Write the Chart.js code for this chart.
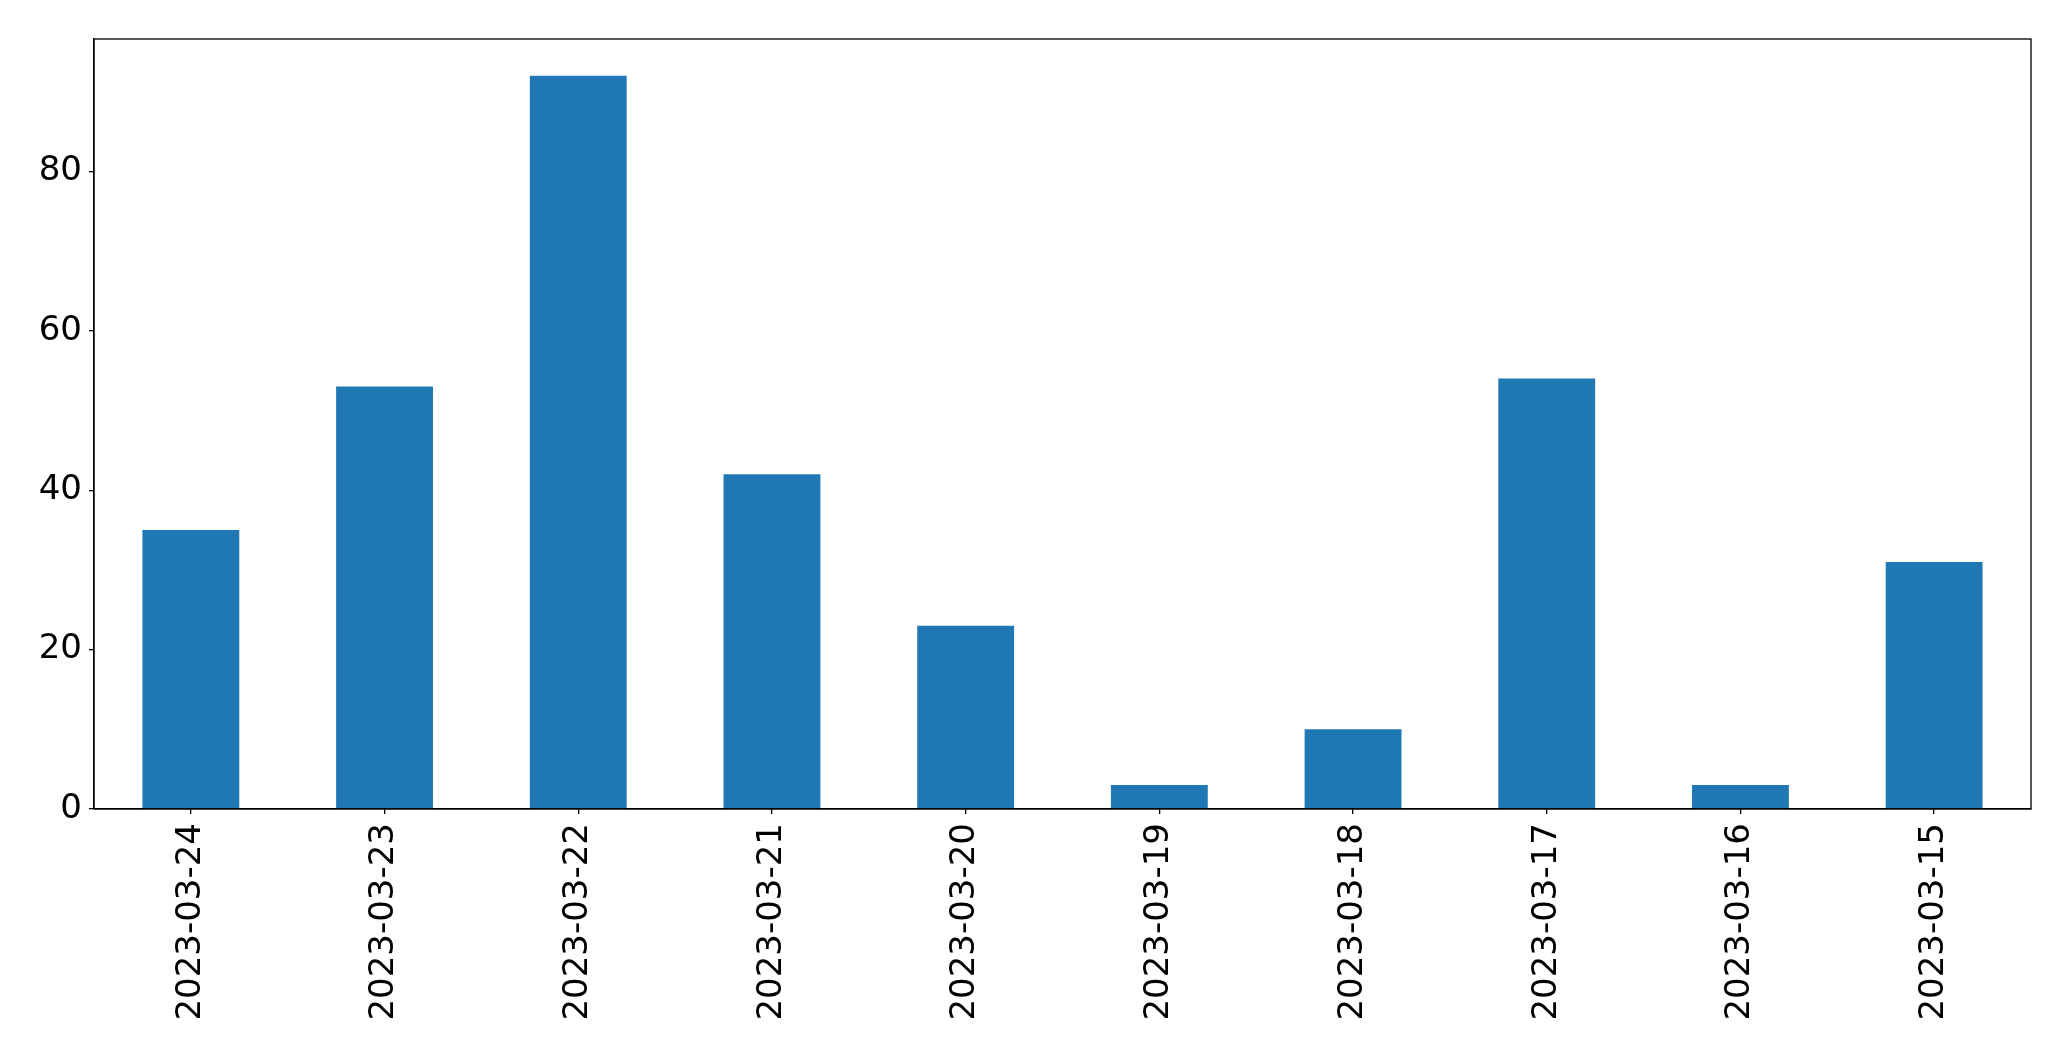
<!DOCTYPE html>
<html>
<head>
<meta charset="utf-8">
<title>Daily counts</title>
<script src="https://cdn.jsdelivr.net/npm/chart.js@4/dist/chart.umd.min.js"></script>
<style>
  html, body { margin: 0; padding: 0; background: #fff; }
  #wrap { width: 2071px; height: 1061px; }
</style>
</head>
<body>
<div id="wrap"><canvas id="chart" width="2071" height="1061"></canvas></div>
<script>
// Data
const dates = ['2023-03-24', '2023-03-23', '2023-03-22', '2023-03-21', '2023-03-20',
               '2023-03-19', '2023-03-18', '2023-03-17', '2023-03-16', '2023-03-15'];
const counts = [35, 53, 92, 42, 23, 3, 10, 54, 3, 31];
const yTicks = [0, 20, 40, 60, 80];

const tickFont = { family: 'DejaVu Sans', size: 34 };

// Draw the full box around the plot area, like matplotlib's spines
const frame = {
    id: 'frame',
    afterDraw(chart) {
        const { ctx, chartArea: a } = chart;
        ctx.save();
        ctx.strokeStyle = '#000';
        ctx.lineWidth = 1.3;
        ctx.strokeRect(a.left, a.top, a.right - a.left, a.bottom - a.top);
        ctx.restore();
    }
};

new Chart(document.getElementById('chart'), {
    type: 'bar',
    data: {
        labels: dates,
        datasets: [{
            data: counts,
            backgroundColor: '#1f77b4',
            barPercentage: 0.5,
            categoryPercentage: 1.0
        }]
    },
    options: {
        responsive: false,
        animation: false,
        layout: { padding: { top: 39, right: 40, left: 0, bottom: 0 } },
        plugins: { legend: { display: false }, tooltip: { enabled: false } },
        scales: {
            x: {
                offset: true,
                grid: { display: true, offset: false, drawOnChartArea: false, drawTicks: true, tickLength: 5, color: '#000', lineWidth: 1.3 },
                border: { display: true, color: '#000', width: 1.3 },
                ticks: {
                    color: '#000', font: tickFont, padding: 9,
                    maxRotation: 90, minRotation: 90, autoSkip: false
                },
                afterFit(scale) { scale.height = 1061 - 809; }
            },
            y: {
                min: 0,
                max: 96.6,
                grid: { display: true, drawOnChartArea: false, drawTicks: true, tickLength: 5, color: '#000', lineWidth: 1.3 },
                border: { display: true, color: '#000', width: 1.3 },
                afterBuildTicks(scale) { scale.ticks = yTicks.map(v => ({ value: v })); },
                ticks: { color: '#000', font: tickFont, padding: 7 },
                afterFit(scale) { scale.width = 94; }
            }
        }
    },
    plugins: [frame]
});
</script>
</body>
</html>
